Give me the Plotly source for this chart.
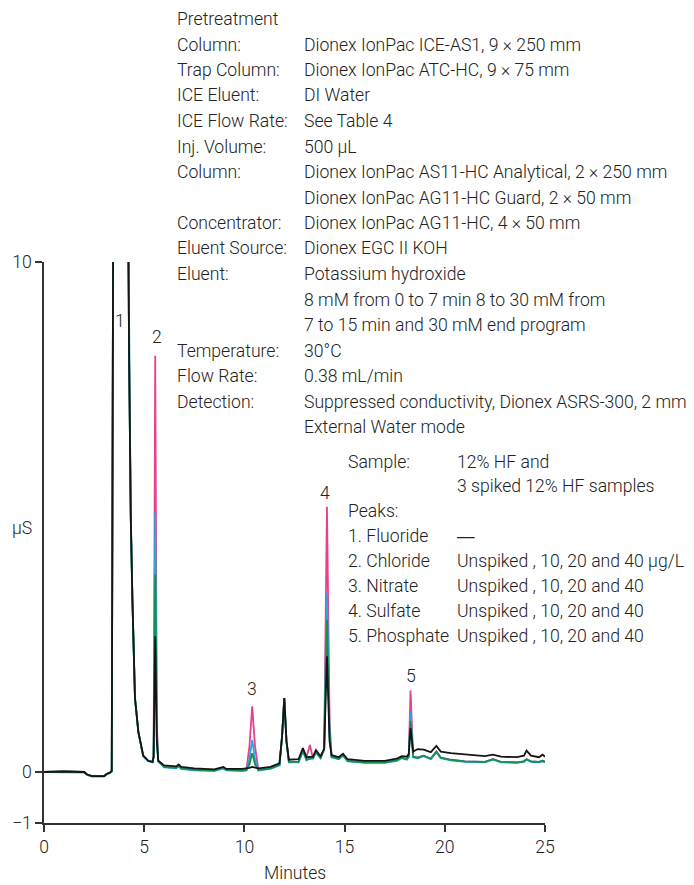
import plotly.graph_objects as go

# ---------------- data ----------------
time_min = [0.0, 1.0, 2.0, 2.15, 2.4, 3.0, 3.12, 3.3, 3.38, 3.46, 3.8, 4.18, 4.25, 4.33, 4.41,
            4.54, 4.71, 4.95, 5.2, 5.42, 5.47, 5.55, 5.63, 5.7, 6.0, 6.6, 6.72, 6.85, 7.5, 8.5,
            8.95, 9.1, 9.9, 10.1, 10.25, 10.39, 10.53, 10.7, 11.3, 11.75, 11.88, 11.99, 12.1, 12.22,
            12.7, 12.92, 13.1, 13.27, 13.42, 13.57, 13.8, 13.98, 14.12, 14.25, 14.35, 14.7, 14.92,
            15.15, 16.0, 17.0, 17.6, 17.85, 18.1, 18.2, 18.29, 18.42, 18.65, 18.95, 19.3, 19.58,
            19.8, 20.3, 21.0, 22.0, 22.4, 22.8, 23.6, 23.95, 24.08, 24.3, 24.7, 24.88, 25.0]

unspiked = [0.0, 0.01, 0.0, -0.05, -0.08, -0.08, -0.04, -0.01, 0.02, 12.0, 16.0, 12.0, 8.0, 5.0, 3.4,
            1.45, 0.78, 0.32, 0.22, 0.2, 0.3, 2.66, 0.6, 0.22, 0.13, 0.11, 0.15, 0.1, 0.07, 0.05,
            0.1, 0.06, 0.06, 0.07, 0.08, 0.1, 0.08, 0.07, 0.1, 0.17, 0.7, 1.45, 0.6, 0.24,
            0.25, 0.47, 0.29, 0.3, 0.3, 0.43, 0.31, 0.45, 2.27, 0.6, 0.33, 0.29, 0.36,
            0.25, 0.22, 0.22, 0.26, 0.31, 0.3, 0.35, 0.86, 0.4, 0.45, 0.44, 0.39, 0.51,
            0.4, 0.37, 0.34, 0.31, 0.34, 0.3, 0.29, 0.32, 0.42, 0.32, 0.29, 0.34, 0.3]

spike_10 = [0.0, 0.01, 0.0, -0.05, -0.08, -0.08, -0.04, -0.01, 0.02, 12.0, 16.0, 12.0, 8.0, 5.0, 3.4,
            1.45, 0.78, 0.32, 0.22, 0.2, 0.3, 3.87, 0.7, 0.22, 0.1, 0.08, 0.12, 0.07, 0.04, 0.03,
            0.08, 0.04, 0.03, 0.04, 0.15, 0.37, 0.15, 0.04, 0.07, 0.14, 0.7, 1.45, 0.6, 0.2,
            0.2, 0.42, 0.24, 0.26, 0.27, 0.39, 0.28, 0.45, 2.99, 0.7, 0.3, 0.26, 0.33,
            0.22, 0.19, 0.19, 0.23, 0.28, 0.25, 0.3, 1.0, 0.3, 0.28, 0.32, 0.26, 0.4,
            0.28, 0.24, 0.21, 0.2, 0.25, 0.2, 0.19, 0.21, 0.25, 0.21, 0.2, 0.22, 0.2]

spike_20 = [0.0, 0.0, -0.01, -0.06, -0.09, -0.09, -0.05, -0.02, 0.01, 12.0, 16.0, 12.0, 8.0, 5.0, 3.4,
            1.45, 0.77, 0.31, 0.21, 0.19, 0.3, 5.09, 0.8, 0.21, 0.09, 0.07, 0.11, 0.06, 0.03, 0.02,
            0.07, 0.03, 0.02, 0.03, 0.25, 0.63, 0.25, 0.03, 0.06, 0.13, 0.7, 1.45, 0.6, 0.19,
            0.19, 0.41, 0.23, 0.28, 0.26, 0.38, 0.27, 0.45, 3.5, 0.8, 0.29, 0.25, 0.32,
            0.21, 0.18, 0.18, 0.22, 0.27, 0.24, 0.3, 1.19, 0.29, 0.27, 0.31, 0.25, 0.39,
            0.27, 0.23, 0.2, 0.19, 0.24, 0.19, 0.18, 0.2, 0.24, 0.2, 0.19, 0.21, 0.19]

spike_40 = [0.0, 0.01, 0.0, -0.05, -0.08, -0.08, -0.04, -0.01, 0.02, 12.0, 16.0, 12.0, 8.0, 5.0, 3.4,
            1.45, 0.78, 0.32, 0.22, 0.2, 0.3, 8.16, 1.0, 0.22, 0.1, 0.08, 0.12, 0.07, 0.04, 0.03,
            0.08, 0.04, 0.03, 0.04, 0.5, 1.29, 0.5, 0.04, 0.07, 0.14, 0.7, 1.45, 0.6, 0.2,
            0.2, 0.42, 0.3, 0.53, 0.27, 0.39, 0.28, 0.45, 5.2, 1.0, 0.3, 0.26, 0.33,
            0.22, 0.19, 0.19, 0.23, 0.28, 0.25, 0.3, 1.6, 0.3, 0.28, 0.32, 0.26, 0.4,
            0.28, 0.24, 0.21, 0.2, 0.25, 0.2, 0.19, 0.21, 0.25, 0.21, 0.2, 0.22, 0.2]

peak_numbers = ["1", "2", "3", "4", "5"]
peak_label_x = [3.78, 5.62, 10.39, 14.02, 18.29]
peak_label_y = [8.85, 8.53, 1.62, 5.48, 1.88]

x_ticks = [0, 5, 10, 15, 20, 25]
y_ticks = [-1, 0, 10]

cond_labels = ["Pretreatment", "Column:", "Trap Column:", "ICE Eluent:", "ICE Flow Rate:",
               "Inj. Volume:", "Column:", "", "Concentrator:", "Eluent Source:", "Eluent:",
               "", "", "Temperature:", "Flow Rate:", "Detection:", ""]
cond_values = ["", "Dionex IonPac ICE-AS1, 9 × 250 mm", "Dionex IonPac ATC-HC, 9 × 75 mm",
               "DI Water", "See Table 4", "500 µL", "Dionex IonPac AS11-HC Analytical, 2 × 250 mm",
               "Dionex IonPac AG11-HC Guard, 2 × 50 mm", "Dionex IonPac AG11-HC, 4 × 50 mm",
               "Dionex EGC II KOH", "Potassium hydroxide", "8 mM from 0 to 7 min 8 to 30 mM from",
               "7 to 15 min and 30 mM end program", "30°C", "0.38 mL/min",
               "Suppressed conductivity, Dionex ASRS-300, 2 mm", "External Water mode"]

sample_labels = ["Sample:", "", "Peaks:", "1. Fluoride", "2. Chloride", "3. Nitrate",
                 "4. Sulfate", "5. Phosphate"]
sample_values = ["12% HF and", "3 spiked 12% HF samples", "", "—",
                 "Unspiked , 10, 20 and 40 µg/L", "Unspiked , 10, 20 and 40",
                 "Unspiked , 10, 20 and 40", "Unspiked , 10, 20 and 40"]

# ---------------- figure ----------------
W, H = 694, 885
ML, MR, MT, MB = 42, 149, 262, 62
PW, PH = W - ML - MR, H - MT - MB
FONT = "Roboto, 'Liberation Sans', Arial, sans-serif"
FS = 17.6
TXT = "#222222"


def px_x(px):
    return (px - ML) / PW


def px_y(py):
    return (H - MB - py) / PH


series = [("40 µg/L", spike_40, "#e8408c"),
          ("20 µg/L", spike_20, "#2aa6de"),
          ("10 µg/L", spike_10, "#11904f"),
          ("Unspiked", unspiked, "#141414")]

fig = go.Figure()
for name, vals, col in series:
    fig.add_trace(go.Scatter(x=time_min, y=vals, mode="lines", name=name,
                             line=dict(color=col, width=1.8), showlegend=False,
                             hoverinfo="skip"))

ann = []
for t, x, y in zip(peak_numbers, peak_label_x, peak_label_y):
    ann.append(dict(x=x, y=y, xref="x", yref="y", text=t, showarrow=False,
                    xanchor="center", yanchor="middle", font=dict(size=FS, color=TXT)))

y0, step = 19, 25.5
for i, (lab, val) in enumerate(zip(cond_labels, cond_values)):
    py = y0 + i * step
    if lab:
        ann.append(dict(x=px_x(174), y=px_y(py), xref="paper", yref="paper", text=lab,
                        showarrow=False, xanchor="left", yanchor="middle",
                        font=dict(size=FS, color=TXT)))
    if val:
        ann.append(dict(x=px_x(301), y=px_y(py), xref="paper", yref="paper", text=val,
                        showarrow=False, xanchor="left", yanchor="middle",
                        font=dict(size=FS, color=TXT)))

s_rows = [462, 486, 511, 536, 561, 586, 611, 636]
for lab, val, py in zip(sample_labels, sample_values, s_rows):
    if lab:
        ann.append(dict(x=px_x(345), y=px_y(py), xref="paper", yref="paper", text=lab,
                        showarrow=False, xanchor="left", yanchor="middle",
                        font=dict(size=FS, color=TXT)))
    if val:
        fam = "'Liberation Sans', Arial, sans-serif" if val == "—" else FONT
        ann.append(dict(x=px_x(455), y=px_y(py), xref="paper", yref="paper", text=val,
                        showarrow=False, xanchor="left", yanchor="middle",
                        font=dict(size=FS, color=TXT, family=fam)))

ann.append(dict(x=px_x(20), y=px_y(528), xref="paper", yref="paper", text="µS",
                showarrow=False, xanchor="center", yanchor="middle",
                font=dict(size=FS, color=TXT)))
ann.append(dict(x=px_x(294), y=px_y(873), xref="paper", yref="paper", text="Minutes",
                showarrow=False, xanchor="center", yanchor="middle",
                font=dict(size=FS, color=TXT)))

axis_common = dict(showline=True, linecolor="#333333", linewidth=1.5, ticks="outside",
                   ticklen=7, tickwidth=1.5, tickcolor="#333333", showgrid=False,
                   zeroline=False, tickfont=dict(size=FS, color=TXT, family=FONT))

fig.update_layout(
    width=W, height=H,
    margin=dict(l=ML, r=MR, t=MT, b=MB, pad=0),
    paper_bgcolor="white", plot_bgcolor="white",
    font=dict(family=FONT, size=FS, color=TXT, weight=300),
    xaxis=dict(range=[0, 25], tickvals=x_ticks, **axis_common),
    yaxis=dict(range=[-1, 10], tickvals=y_ticks, **axis_common),
    annotations=ann,
    showlegend=False,
)

fig.write_html("out.html", config={"displayModeBar": False},
               post_script="document.body.style.margin='0';document.body.style.padding='0';")
